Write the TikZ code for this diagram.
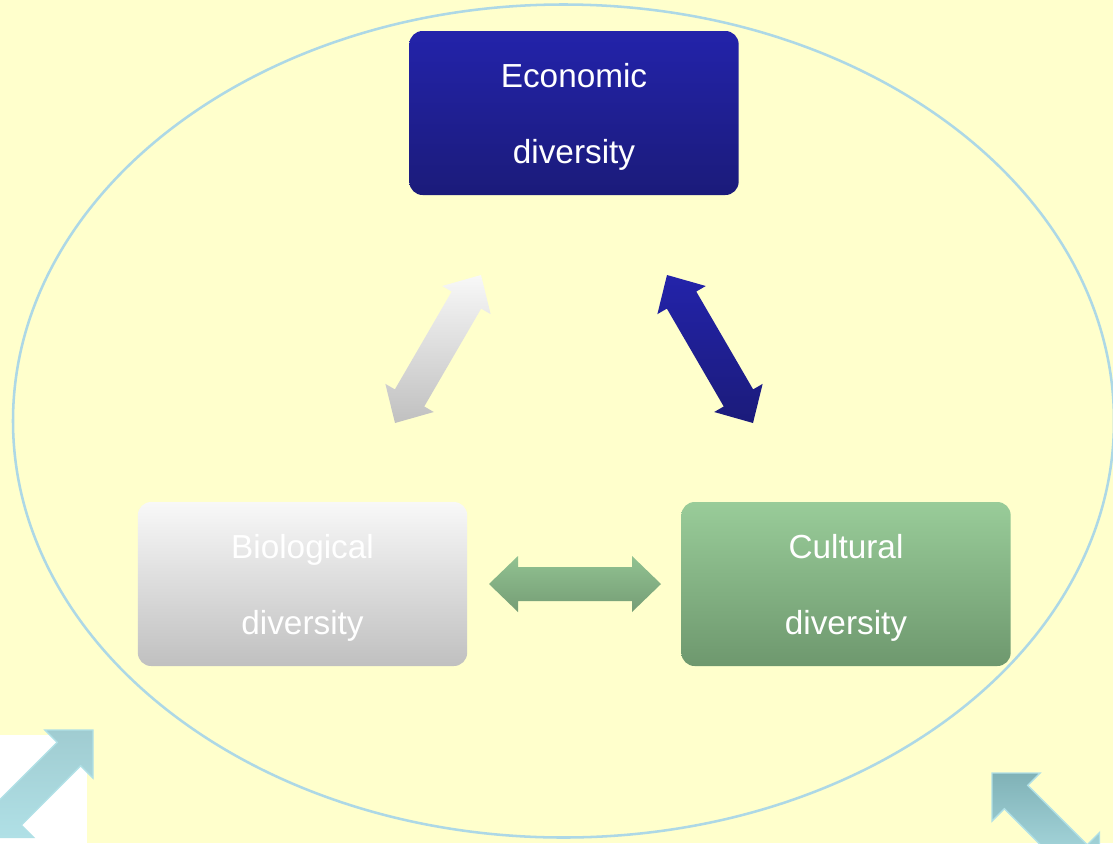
\documentclass[tikz,border=0pt]{standalone}
\usepackage{fontspec}
\setmainfont{Liberation Sans}
\usetikzlibrary{calc}
\definecolor{bgyellow}{RGB}{255,255,204}
\definecolor{ringblue}{RGB}{173,216,230}
\definecolor{ecotop}{RGB}{35,35,170}
\definecolor{ecobot}{RGB}{27,27,122}
\definecolor{biotop}{RGB}{248,248,248}
\definecolor{biobot}{RGB}{192,192,192}
\definecolor{cultop}{RGB}{153,204,153}
\definecolor{culbot}{RGB}{110,152,110}
\definecolor{cyanlt}{RGB}{176,224,230}
\definecolor{cyanmd}{RGB}{128,178,183}
\definecolor{cyantp}{RGB}{160,204,209}
\newcommand\dblarrow[6]{% #1 tip A, #2 tip B, #3 head length, #4 head half width, #5 shaft half width, #6 style
  \path[#6] (#1)
   -- ($(#1)!#3!(#2)!#4!90:(#2)$)
   -- ($(#1)!#3!(#2)!#5!90:(#2)$)
   -- ($(#2)!#3!(#1)!#5!-90:(#1)$)
   -- ($(#2)!#3!(#1)!#4!-90:(#1)$)
   -- (#2)
   -- ($(#2)!#3!(#1)!#4!90:(#1)$)
   -- ($(#2)!#3!(#1)!#5!90:(#1)$)
   -- ($(#1)!#3!(#2)!#5!-90:(#2)$)
   -- ($(#1)!#3!(#2)!#4!-90:(#2)$)
   -- cycle;}
\tikzset{
  box/.style={rounded corners=10pt, minimum width=247pt, minimum height=123pt,
    inner sep=0pt, align=center, text=white, text height=81pt, text depth=5.25pt,
    font=\fontsize{25}{57}\selectfont},
  ecobox/.style={box, top color=ecotop, bottom color=ecobot},
  biobox/.style={box, top color=biotop, bottom color=biobot},
  culbox/.style={box, top color=cultop, bottom color=culbot},
  ecoarrow/.style={top color=ecotop, bottom color=ecobot},
  bioarrow/.style={top color=biotop, bottom color=biobot},
  cularrow/.style={top color=cultop!95!black, bottom color=culbot!95!white},
  cyanarrowA/.style={draw=cyanlt, line width=1pt, top color=cyantp, middle color=cyanmd, bottom color=cyanlt},
  cyanarrowB/.style={draw=cyanlt, line width=1pt, top color=cyanmd, middle color=cyanlt, bottom color=cyanlt},
}
\begin{document}
\begin{tikzpicture}[x=0.75pt,y=-0.75pt]
  \fill[bgyellow] (0,0) rectangle (1113,843);
  \useasboundingbox (0,0) rectangle (1113,843);
  \fill[white] (0,735) rectangle (87,843);
  \draw[ringblue, line width=1.9pt] (563.5,421) ellipse [x radius=550.5, y radius=416.5];

  \node[ecobox] (eco) at (574,113) {Economic\\diversity};
  \node[biobox] (bio) at (302.5,584) {Biological\\diversity};
  \node[culbox] (cul) at (846,584) {Cultural\\diversity};

  \coordinate (gA) at (481,275);
  \coordinate (gB) at (395,423);
  \coordinate (bA) at (667,275);
  \coordinate (bB) at (753,423);
  \coordinate (cA) at (489,584);
  \coordinate (cB) at (661,584);
  \coordinate (lA) at (93,730);
  \coordinate (lB) at (-14.5,837.5);
  \coordinate (rA) at (992,773);
  \coordinate (rB) at (1099.5,880.5);

  \dblarrow{gA}{gB}{21.75pt}{21pt}{12.75pt}{bioarrow}
  \dblarrow{bA}{bB}{21.75pt}{21pt}{12.75pt}{ecoarrow}
  \dblarrow{cA}{cB}{21.75pt}{21pt}{12.75pt}{cularrow}
  \dblarrow{lA}{lB}{25.5pt}{25.5pt}{12.4pt}{cyanarrowA}
  \dblarrow{rA}{rB}{25.5pt}{25.5pt}{12.4pt}{cyanarrowB}
\end{tikzpicture}
\end{document}
